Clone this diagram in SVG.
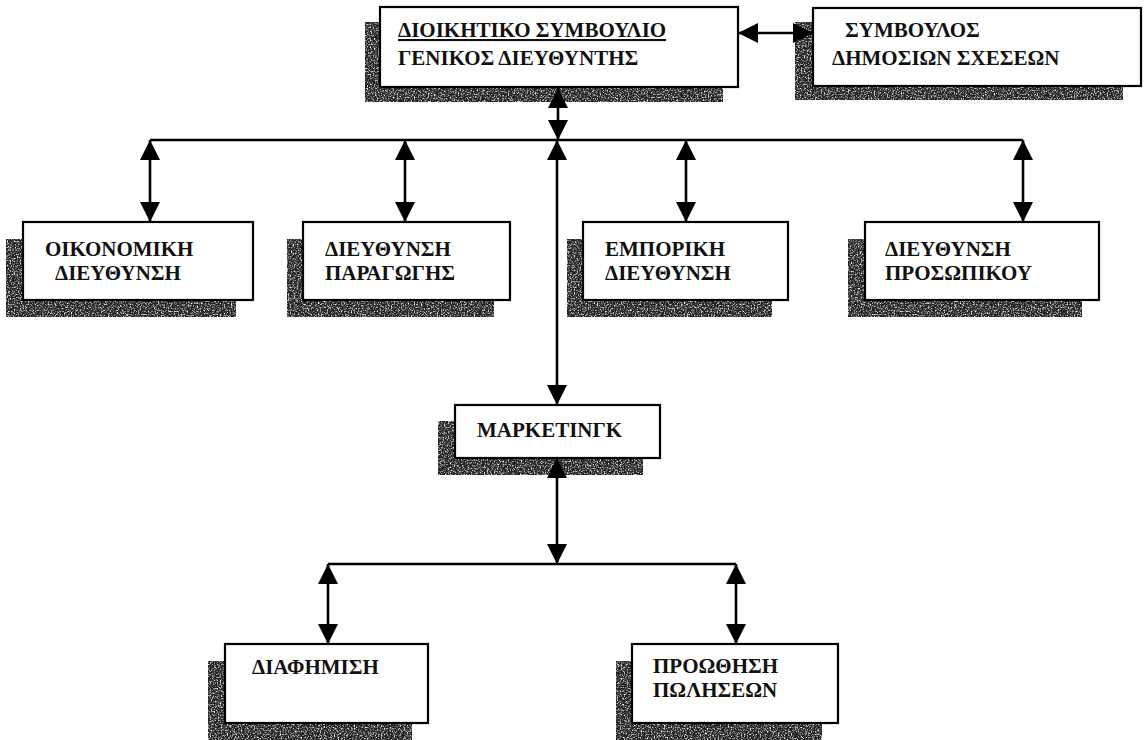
<svg xmlns="http://www.w3.org/2000/svg" width="1147" height="740" viewBox="0 0 1147 740">
<style>
.box{fill:#fff;stroke:#000;stroke-width:2.2}
.sh{fill:#222;filter:url(#grain)}
.t{font-family:"Liberation Serif","Times New Roman",serif;font-weight:bold;font-size:21px;fill:#111}
.c{stroke:#000;stroke-width:2.6;fill:none;marker-start:url(#ah);marker-end:url(#ah)}
.bus{stroke:#000;stroke-width:2.6;fill:none}
</style>
<defs>
<marker id="ah" viewBox="0 0 20 20" refX="20" refY="10" markerWidth="20" markerHeight="20" markerUnits="userSpaceOnUse" orient="auto-start-reverse">
<path d="M0,0 L20,10 L0,20 z" fill="#000"/>
</marker>
<filter id="grain" x="0" y="0" width="100%" height="100%">
<feTurbulence type="fractalNoise" baseFrequency="0.7" numOctaves="2" seed="4" result="n"/>
<feColorMatrix in="n" type="matrix" values="0 0 0 0 0  0 0 0 0 0  0 0 0 0 0  0 0 0 -3 2.4" result="m"/>
<feComposite in="SourceGraphic" in2="m" operator="in"/>
</filter>
</defs>
<rect width="1147" height="740" fill="#fff"/>

<g id="board">
<rect class="sh" x="365" y="22" width="358" height="80"/>
<rect class="box" x="380" y="7" width="358" height="80"/>
<text class="t" x="398" y="37" text-decoration="underline">ΔΙΟΙΚΗΤΙΚΟ ΣΥΜΒΟΥΛΙΟ</text>
<text class="t" x="398" y="65">ΓΕΝΙΚΟΣ ΔΙΕΥΘΥΝΤΗΣ</text>
</g>

<g id="pr">
<rect class="sh" x="795" y="22" width="328" height="78"/>
<rect class="box" x="813" y="8" width="328" height="78"/>
<text class="t" x="845" y="37">ΣΥΜΒΟΥΛΟΣ</text>
<text class="t" x="832" y="65">ΔΗΜΟΣΙΩΝ ΣΧΕΣΕΩΝ</text>
</g>

<g id="finance">
<rect class="sh" x="6" y="239" width="230" height="78"/>
<rect class="box" x="23" y="222" width="230" height="78"/>
<text class="t" x="45" y="256">ΟΙΚΟΝΟΜΙΚΗ</text>
<text class="t" x="55" y="280">ΔΙΕΥΘΥΝΣΗ</text>
</g>

<g id="production">
<rect class="sh" x="287" y="239" width="207" height="78"/>
<rect class="box" x="303" y="222" width="207" height="78"/>
<text class="t" x="325" y="256">ΔΙΕΥΘΥΝΣΗ</text>
<text class="t" x="325" y="280">ΠΑΡΑΓΩΓΗΣ</text>
</g>

<g id="commercial">
<rect class="sh" x="567" y="239" width="205" height="78"/>
<rect class="box" x="583" y="222" width="205" height="78"/>
<text class="t" x="605" y="256">ΕΜΠΟΡΙΚΗ</text>
<text class="t" x="605" y="280">ΔΙΕΥΘΥΝΣΗ</text>
</g>

<g id="personnel">
<rect class="sh" x="848" y="239" width="234" height="78"/>
<rect class="box" x="865" y="222" width="234" height="78"/>
<text class="t" x="885" y="256">ΔΙΕΥΘΥΝΣΗ</text>
<text class="t" x="885" y="280">ΠΡΟΣΩΠΙΚΟΥ</text>
</g>

<g id="marketing">
<rect class="sh" x="438" y="421" width="205" height="54"/>
<rect class="box" x="455" y="405" width="205" height="53"/>
<text class="t" x="477" y="437">ΜΑΡΚΕΤΙΝΓΚ</text>
</g>

<g id="advertising">
<rect class="sh" x="208" y="661" width="204" height="79"/>
<rect class="box" x="225" y="644" width="203" height="79"/>
<text class="t" x="252" y="674">ΔΙΑΦΗΜΙΣΗ</text>
</g>

<g id="promotion">
<rect class="sh" x="616" y="661" width="206" height="79"/>
<rect class="box" x="632" y="644" width="206" height="79"/>
<text class="t" x="653" y="673">ΠΡΟΩΘΗΣΗ</text>
<text class="t" x="653" y="697">ΠΩΛΗΣΕΩΝ</text>
</g>

<g id="connectors">
<line class="c" x1="738" y1="33" x2="813" y2="33"/>
<line class="c" x1="558" y1="88" x2="558" y2="140"/>
<line class="bus" x1="150" y1="140" x2="1023" y2="140"/>
<line class="c" x1="150" y1="140" x2="150" y2="222"/>
<line class="c" x1="405" y1="140" x2="405" y2="222"/>
<line class="c" x1="686" y1="140" x2="686" y2="222"/>
<line class="c" x1="1023" y1="140" x2="1023" y2="222"/>
<line class="c" x1="557" y1="140" x2="557" y2="405"/>
<line class="c" x1="557" y1="458" x2="557" y2="564"/>
<line class="bus" x1="328" y1="564" x2="736" y2="564"/>
<line class="c" x1="328" y1="564" x2="328" y2="644"/>
<line class="c" x1="736" y1="564" x2="736" y2="644"/>
</g>
</svg>
